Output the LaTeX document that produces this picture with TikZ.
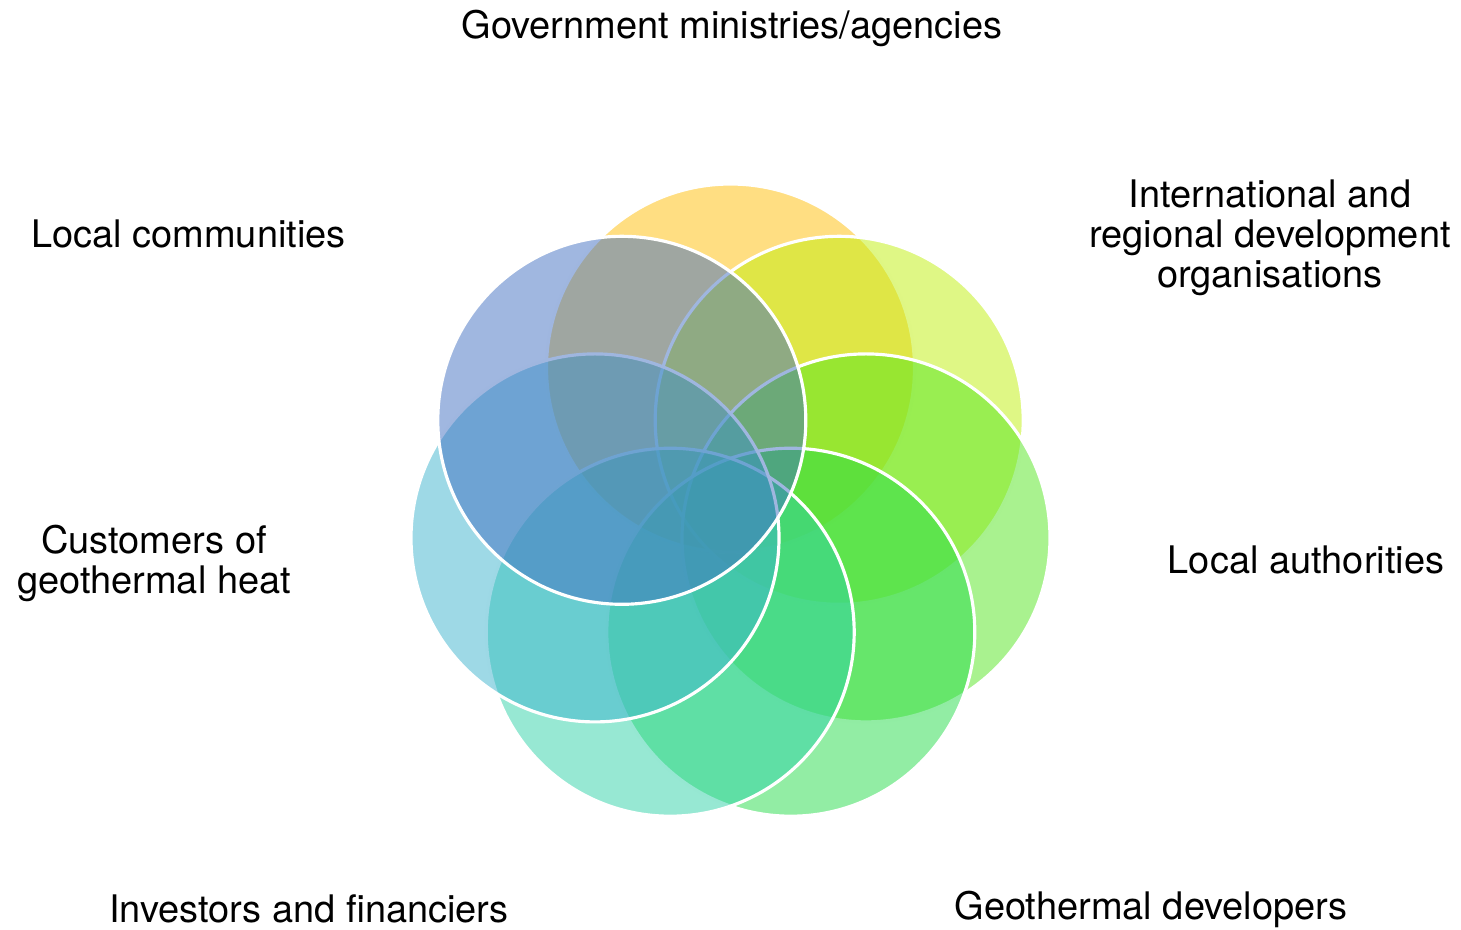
\documentclass[tikz,border=0pt]{standalone}
\usepackage{fontspec}
\setmainfont{TeX Gyre Heros}
\usepackage{xcolor}
\definecolor{petalgold}{RGB}{255,189,5}
\definecolor{petallime}{RGB}{191,239,11}
\definecolor{petalgreen}{RGB}{83,229,31}
\definecolor{petalemerald}{RGB}{37,219,73}
\definecolor{petalteal}{RGB}{47,209,167}
\definecolor{petalsky}{RGB}{61,179,205}
\definecolor{petalblue}{RGB}{65,111,193}

\begin{document}
\begin{tikzpicture}[x=0.01cm, y=0.01cm,
  petal/.style={draw=white, line width=0.9pt, fill opacity=0.5},
  stakeholder/.style={font=\fontsize{10.8}{11.4}\selectfont, text=black, inner sep=0pt, align=center}]
  \useasboundingbox (0,0) rectangle (1461,929);
  % seven overlapping circles, clockwise from the top
  \draw[petal, fill=petalgold] (730.5,561) circle (184);
  \draw[petal, fill=petallime] (839.2,508.7) circle (184);
  \draw[petal, fill=petalgreen] (866.0,391.1) circle (184);
  \draw[petal, fill=petalemerald] (790.8,296.8) circle (184);
  \draw[petal, fill=petalteal] (670.2,296.8) circle (184);
  \draw[petal, fill=petalsky] (595.0,391.1) circle (184);
  \draw[petal, fill=petalblue] (621.8,508.7) circle (184);
  % stakeholder labels
  \node[stakeholder] (govt) at (732,901) {Government ministries/agencies};
  \node[stakeholder] (intl) at (1270,691) {International and\\regional development\\organisations};
  \node[stakeholder] (authorities) at (1306,369) {Local authorities};
  \node[stakeholder] (developers) at (1151,20) {Geothermal developers};
  \node[stakeholder] (investors) at (309,20) {Investors and financiers};
  \node[stakeholder] (customers) at (154,366) {Customers of\\geothermal heat};
  \node[stakeholder] (communities) at (188.5,695) {Local communities};
\end{tikzpicture}
\end{document}
